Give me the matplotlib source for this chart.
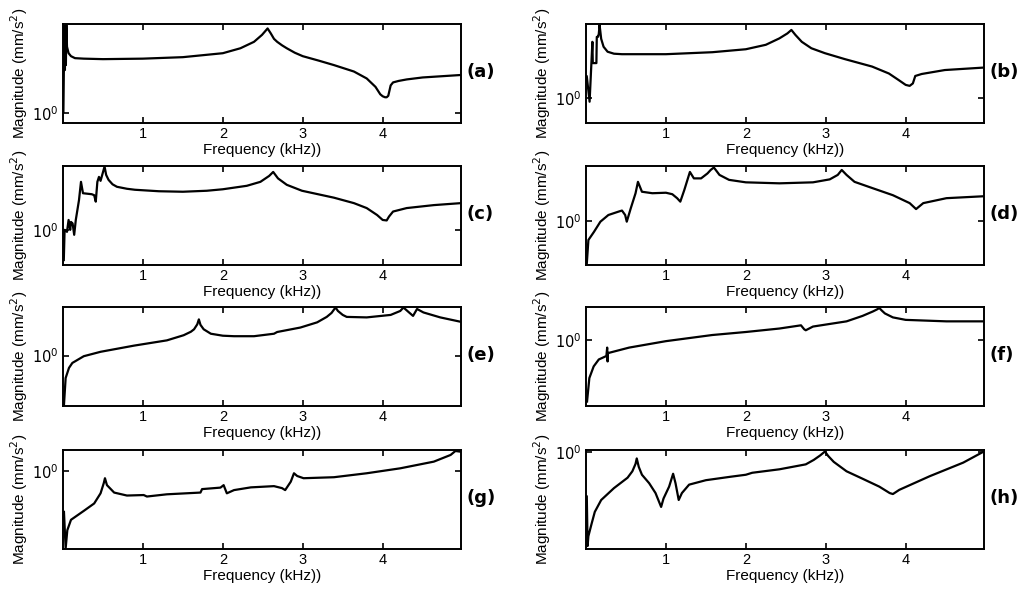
import matplotlib
matplotlib.use('Agg')
import matplotlib.pyplot as plt
import numpy as np

# frequency in kHz, level in dB re 1 mm/s^2
freq_a = [0.005, 0.012, 0.018, 0.024, 0.03, 0.036, 0.042, 0.05, 0.07, 0.1, 0.15, 0.26, 0.5, 1.0, 1.5, 2.0,
          2.22, 2.39, 2.49, 2.56, 2.6, 2.64, 2.68, 2.74, 2.8, 2.9, 3.0, 3.2, 3.39, 3.64, 3.8, 3.91, 3.97,
          4.0, 4.03, 4.05, 4.07, 4.1, 4.13, 4.2, 4.3, 4.5, 4.98]
level_a = [0.2, 10.7, 17.6, 8.7, 17.4, 9.7, 17.8, 13.4, 12.1, 11.5, 11.1, 11.0, 10.9, 11.0, 11.3, 12.1,
           13.1, 14.4, 15.8, 17.1, 16.1, 15.0, 14.4, 13.7, 13.1, 12.2, 11.5, 10.6, 9.7, 8.4, 7.0, 5.3, 3.8,
           3.4, 3.2, 3.2, 3.5, 5.6, 6.2, 6.5, 6.8, 7.2, 7.7]

freq_b = [0.01, 0.045, 0.08, 0.085, 0.13, 0.135, 0.15, 0.16, 0.17, 0.19, 0.22, 0.27, 0.35, 0.45, 1.0,
          1.58, 2.0, 2.25, 2.42, 2.52, 2.57, 2.62, 2.7, 2.82, 2.99, 3.24, 3.58, 3.79, 3.91, 4.0, 4.05,
          4.09, 4.12, 4.2, 4.49, 4.98]
level_b = [4.4, -0.7, 11.4, 7.1, 7.1, 12.4, 12.4, 13.0, 14.8, 12.0, 10.4, 9.4, 9.0, 8.9, 8.9,
           9.3, 9.9, 10.8, 12.1, 13.1, 13.8, 12.8, 11.4, 10.1, 9.1, 7.9, 6.4, 5.0, 3.7, 2.7, 2.5,
           3.0, 4.5, 4.9, 5.7, 6.2]

freq_c = [0.01, 0.02, 0.05, 0.07, 0.09, 0.1, 0.12, 0.14, 0.16, 0.2, 0.225, 0.25, 0.36, 0.39, 0.41,
          0.43, 0.45, 0.47, 0.52, 0.54, 0.57, 0.62, 0.675, 0.8, 0.9, 1.2, 1.5, 1.8, 2.0, 2.3, 2.47,
          2.58, 2.63, 2.69, 2.8, 2.99, 3.39, 3.64, 3.8, 3.93, 4.0, 4.05, 4.08, 4.13, 4.3, 4.64, 4.98]
level_c = [-6.0, 0.1, -0.3, 2.1, 0.1, 1.7, 1.4, -0.9, 2.1, 6.1, 9.8, 7.5, 7.3, 7.1, 5.8,
           9.8, 10.8, 10.0, 12.9, 11.2, 10.2, 9.3, 8.8, 8.4, 8.2, 7.9, 7.8, 8.0, 8.3, 9.0, 9.8,
           11.0, 11.8, 10.5, 9.2, 8.0, 6.6, 5.5, 4.5, 3.1, 2.1, 2.0, 2.8, 3.8, 4.5, 5.1, 5.5]

freq_d = [0.01, 0.03, 0.1, 0.18, 0.28, 0.41, 0.45, 0.49, 0.51, 0.56, 0.62, 0.65, 0.70, 0.83, 1.0,
          1.08, 1.14, 1.18, 1.23, 1.30, 1.35, 1.44, 1.52, 1.56, 1.60, 1.67, 1.79, 2.0, 2.42, 2.84,
          3.05, 3.15, 3.2, 3.26, 3.36, 3.59, 3.84, 4.05, 4.13, 4.22, 4.51, 4.99]
level_d = [-8.5, -3.75, -2.1, -0.05, 1.3, 2.0, 2.2, 1.3, -0.05, 2.65, 5.7, 8.0, 6.0, 5.7, 5.8,
           5.5, 4.7, 4.0, 6.35, 10.0, 8.7, 8.7, 9.7, 10.4, 10.9, 9.4, 8.4, 7.9, 7.7, 7.9,
           8.5, 9.4, 10.4, 9.4, 8.0, 6.7, 5.3, 3.7, 2.5, 3.7, 4.7, 5.1]

freq_e = [0.012, 0.033, 0.075, 0.117, 0.26, 0.47, 0.89, 1.3, 1.51, 1.6, 1.64, 1.68, 1.7, 1.72, 1.76,
          1.85, 2.0, 2.14, 2.39, 2.64, 2.68, 2.97, 3.18, 3.3, 3.36, 3.41, 3.44, 3.5, 3.55, 3.8, 4.1,
          4.22, 4.26, 4.33, 4.38, 4.43, 4.51, 4.72, 4.98]
level_e = [-10.0, -4.55, -2.5, -1.5, -0.14, 0.75, 2.0, 3.06, 4.1, 4.8, 5.3, 6.3, 7.3, 6.2, 5.3,
           4.4, 4.0, 3.9, 3.9, 4.4, 4.75, 5.65, 6.7, 7.8, 8.6, 9.7, 9.0, 8.2, 7.8, 7.7, 8.2,
           9.0, 9.7, 8.7, 8.0, 9.4, 8.7, 7.7, 6.8]

freq_f = [0.013, 0.042, 0.096, 0.16, 0.255, 0.265, 0.27, 0.275, 0.29, 0.54, 1.0, 1.58, 2.0, 2.42,
          2.69, 2.73, 2.75, 2.84, 3.26, 3.46, 3.59, 3.64, 3.67, 3.7, 3.74, 3.84, 4.0, 4.51, 4.99]
level_f = [-12.5, -7.75, -5.4, -4.0, -3.3, -1.6, -4.4, -2.65, -2.65, -1.6, -0.3, 0.94, 1.55, 2.25,
           2.9, 2.1, 1.9, 2.65, 3.7, 4.8, 5.7, 6.1, 6.4, 5.9, 5.3, 4.5, 4.0, 3.7, 3.7]

freq_g = [0.012, 0.033, 0.054, 0.1, 0.26, 0.39, 0.47, 0.51, 0.525, 0.55, 0.64, 0.8, 1.01, 1.05, 1.3,
          1.72, 1.74, 1.97, 2.01, 2.05, 2.14, 2.35, 2.64, 2.74, 2.78, 2.85, 2.89, 2.93, 3.01, 3.39,
          3.8, 4.22, 4.64, 4.85, 4.91, 4.98]
level_g = [-8.3, -15.7, -12.0, -9.9, -8.1, -6.6, -4.55, -2.5, -1.5, -2.9, -4.4, -5.0, -4.9, -5.2, -4.75,
           -4.4, -3.7, -3.4, -2.9, -4.55, -3.9, -3.35, -3.1, -3.5, -3.9, -2.2, -0.5, -1.05, -1.5, -1.3,
           -0.5, 0.5, 1.85, 3.2, 4.0, 3.85]

freq_h = [0.01, 0.02, 0.03, 0.07, 0.11, 0.19, 0.35, 0.52, 0.58, 0.62, 0.635, 0.66, 0.7, 0.79, 0.87,
          0.94, 0.97, 1.04, 1.09, 1.12, 1.16, 1.2, 1.29, 1.5, 1.81, 2.0, 2.08, 2.42, 2.75, 2.85, 2.93,
          2.99, 3.03, 3.1, 3.26, 3.46, 3.67, 3.8, 3.84, 3.92, 4.3, 4.72, 4.99]
level_h = [-9.0, -19.0, -17.0, -14.5, -12.1, -9.7, -7.3, -5.2, -3.9, -2.4, -1.3, -3.0, -4.6, -6.3, -8.3,
           -11.1, -9.4, -7.0, -4.4, -6.3, -9.7, -8.3, -6.6, -5.7, -5.0, -4.6, -4.2, -3.5, -2.5, -1.6, -0.7,
           0.1, -0.8, -2.0, -3.9, -5.4, -7.0, -8.3, -8.5, -7.65, -4.9, -2.15, 0.2]

panel_names = ['(a)', '(b)', '(c)', '(d)', '(e)', '(f)', '(g)', '(h)']
panel_freqs = [freq_a, freq_b, freq_c, freq_d, freq_e, freq_f, freq_g, freq_h]
panel_levels = [level_a, level_b, level_c, level_d, level_e, level_f, level_g, level_h]
panel_ylim_db = [(-2, 18), (-5, 15), (-7, 13), (-8.8, 11.2),
                 (-10.2, 9.8), (-13.4, 6.6), (-15.8, 4.2), (-19.6, 0.4)]

plt.rcParams['font.family'] = ['Liberation Sans', 'DejaVu Sans']

fig = plt.figure(figsize=(10.24, 5.96), dpi=100)

col_left = [63 / 1024, 586 / 1024]
ax_w = 398 / 1024
row_bottom = [1 - 123 / 596, 1 - 265 / 596, 1 - 406 / 596, 1 - 549 / 596]
ax_h = 99 / 596

for i in range(8):
    r, c = i // 2, i % 2
    ax = fig.add_axes([col_left[c], row_bottom[r], ax_w, ax_h])
    mag = 10 ** (np.array(panel_levels[i]) / 20.0)
    ax.plot(panel_freqs[i], mag, color='black', lw=1.6)
    ax.set_yscale('log')
    lo, hi = panel_ylim_db[i]
    ax.set_ylim(10 ** (lo / 20.0), 10 ** (hi / 20.0))
    ax.set_xlim(0, 4.98)
    ax.set_xticks([1, 2, 3, 4])
    ax.set_yticks([1])
    ax.set_yticklabels(['$10^0$'])
    ax.minorticks_off()
    ax.tick_params(direction='in', top=True, right=True, length=4, width=1.2,
                   labelsize=10.5, pad=3)
    for s in ax.spines.values():
        s.set_linewidth(1.4)
    ax.set_xlabel('Frequency (kHz))', fontsize=11, labelpad=1)
    ax.set_ylabel('Magnitude (mm/s$^2$)', fontsize=11, labelpad=2)
    ax.text(1.013, 0.52, panel_names[i], transform=ax.transAxes, fontsize=13,
            fontweight='bold', family=['Liberation Sans Narrow', 'DejaVu Sans'],
            ha='left', va='center')

fig.savefig('out.png', dpi=100)
